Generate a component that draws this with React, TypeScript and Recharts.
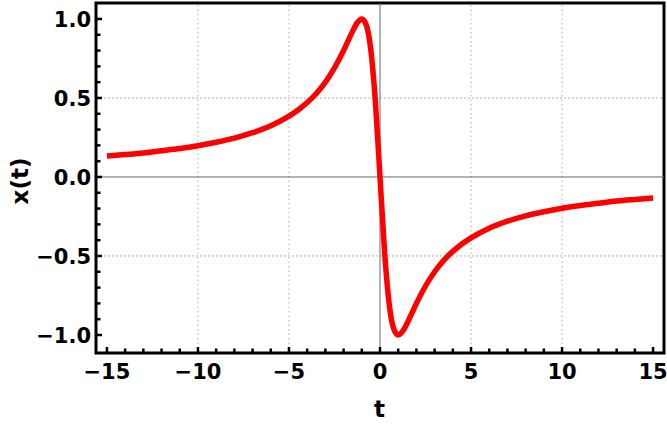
import { LineChart, Line, XAxis, YAxis, ReferenceLine, ReferenceArea } from "recharts";

// t values and x(t)
const tValues = [
  -15, -14, -13, -12, -11, -10, -9, -8, -7, -6, -5, -4.5, -4, -3.5, -3, -2.5, -2, -1.75, -1.5, -1.25, -1,
  -0.75, -0.5, -0.25, 0, 0.25, 0.5, 0.75, 1, 1.25, 1.5, 1.75, 2, 2.5, 3, 3.5, 4, 4.5, 5, 6, 7, 8, 9, 10,
  11, 12, 13, 14, 15,
];
const xValues = [
  0.133, 0.142, 0.152, 0.166, 0.18, 0.198, 0.22, 0.246, 0.28, 0.324, 0.385, 0.424, 0.471, 0.528, 0.6, 0.69,
  0.8, 0.862, 0.923, 0.976, 1.0, 0.96, 0.8, 0.471, 0, -0.471, -0.8, -0.96, -1.0, -0.976, -0.923, -0.862,
  -0.8, -0.69, -0.6, -0.528, -0.471, -0.424, -0.385, -0.324, -0.28, -0.246, -0.22, -0.198, -0.18, -0.166,
  -0.152, -0.142, -0.133,
];

const xMajor = [-15, -10, -5, 0, 5, 10, 15];
const xTicks = [
  -15, -14, -13, -12, -11, -10, -9, -8, -7, -6, -5, -4, -3, -2, -1, 0, 1, 2, 3, 4, 5, 6, 7, 8, 9, 10, 11, 12,
  13, 14, 15,
];
const yMajor = [-1, -0.5, 0, 0.5, 1];
const yLabels = ["\u22121.0", "\u22120.5", "0.0", "0.5", "1.0"];
const yTicks = [
  -1, -0.9, -0.8, -0.7, -0.6, -0.5, -0.4, -0.3, -0.2, -0.1, 0, 0.1, 0.2, 0.3, 0.4, 0.5, 0.6, 0.7, 0.8, 0.9, 1,
];
const xGrid = [-10, -5, 5, 10];
const yGrid = [-0.5, 0.5];

const X_DOMAIN: [number, number] = [-15.6, 15.6];
const Y_DOMAIN: [number, number] = [-1.114, 1.101];

const W = 667;
const H = 425;
const M = { top: 3, right: 3, left: 16, bottom: 22 };
const Y_AXIS_W = 80;
const X_AXIS_H = 50;
const LEFT = M.left + Y_AXIS_W;
const RIGHT = W - M.right;
const TOP = M.top;
const BOTTOM = H - M.bottom - X_AXIS_H;

const FONT = "'DejaVu Sans', sans-serif";
const FS = 21;
const LABEL_FS = 23;

const data = tValues.map((t, i) => ({ t, x: xValues[i] }));

const isMajor = (list: number[], v: number) => list.some((m) => Math.abs(m - v) < 1e-6);
const fmtX = (v: number) => (v < 0 ? "\u2212" + Math.abs(v) : String(v));

function BottomTick(props: any) {
  const { x, payload } = props;
  const major = isMajor(xMajor, payload.value);
  return (
    <g>
      <line x1={x} x2={x} y1={BOTTOM} y2={BOTTOM - (major ? 6 : 4.5)} stroke="#000" strokeWidth={2.5} />
      {major && (
        <text x={x} y={379} textAnchor="middle" fontFamily={FONT} fontWeight="bold" fontSize={FS} fill="#000">
          {fmtX(payload.value)}
        </text>
      )}
    </g>
  );
}

function TopTick(props: any) {
  const { x, payload } = props;
  const major = isMajor(xMajor, payload.value);
  return <line x1={x} x2={x} y1={TOP} y2={TOP + (major ? 6 : 4.5)} stroke="#000" strokeWidth={2.5} />;
}

function LeftTick(props: any) {
  const { y, payload } = props;
  const idx = yMajor.findIndex((m) => Math.abs(m - payload.value) < 1e-6);
  return (
    <g>
      <line x1={LEFT} x2={LEFT + (idx >= 0 ? 6 : 4.5)} y1={y} y2={y} stroke="#000" strokeWidth={2.5} />
      {idx >= 0 && (
        <text x={91} y={y + 7.6} textAnchor="end" fontFamily={FONT} fontWeight="bold" fontSize={FS} fill="#000">
          {yLabels[idx]}
        </text>
      )}
    </g>
  );
}

function RightTick(props: any) {
  const { y, payload } = props;
  const major = isMajor(yMajor, payload.value);
  return <line x1={RIGHT} x2={RIGHT - (major ? 6 : 4.5)} y1={y} y2={y} stroke="#000" strokeWidth={2.5} />;
}

export default function App() {
  const midY = 181;
  return (
    <div style={{ position: "absolute", left: 0, top: 0, width: W, height: H, background: "#fff" }}>
      <LineChart width={W} height={H} data={data} margin={M}>
        <XAxis
          xAxisId="b"
          dataKey="t"
          type="number"
          domain={X_DOMAIN}
          allowDataOverflow
          ticks={xTicks}
          interval={0}
          tick={BottomTick}
          tickLine={false}
          axisLine={false}
          height={X_AXIS_H}
          label={{
            content: () => (
              <text x={379.5} y={417} textAnchor="middle" fontFamily={FONT} fontWeight="bold" fontSize={LABEL_FS} fill="#000">
                t
              </text>
            ),
          }}
        />
        <XAxis
          xAxisId="top"
          orientation="top"
          dataKey="t"
          type="number"
          domain={X_DOMAIN}
          allowDataOverflow
          ticks={xTicks}
          interval={0}
          tick={TopTick}
          tickLine={false}
          axisLine={false}
          height={0}
        />
        <YAxis
          yAxisId="l"
          type="number"
          domain={Y_DOMAIN}
          allowDataOverflow
          ticks={yTicks}
          interval={0}
          tick={LeftTick}
          tickLine={false}
          axisLine={false}
          width={Y_AXIS_W}
          label={{
            content: () => (
              <text
                x={28}
                y={midY}
                textAnchor="middle"
                transform={`rotate(-90 28 ${midY})`}
                fontFamily={FONT}
                fontWeight="bold"
                fontSize={LABEL_FS}
                fill="#000"
              >
                x(t)
              </text>
            ),
          }}
        />
        <YAxis
          yAxisId="r"
          orientation="right"
          type="number"
          domain={Y_DOMAIN}
          allowDataOverflow
          ticks={yTicks}
          interval={0}
          tick={RightTick}
          tickLine={false}
          axisLine={false}
          width={0}
        />
        {xGrid.map((v) => (
          <ReferenceLine key={"gx" + v} x={v} xAxisId="b" yAxisId="l" stroke="#b0b0b0" strokeDasharray="1.5 3" strokeWidth={1} />
        ))}
        {yGrid.map((v) => (
          <ReferenceLine key={"gy" + v} y={v} xAxisId="b" yAxisId="l" stroke="#b0b0b0" strokeDasharray="2 2" strokeWidth={1} />
        ))}
        <ReferenceLine x={0} xAxisId="b" yAxisId="l" stroke="#666" strokeWidth={1} />
        <ReferenceLine y={0} xAxisId="b" yAxisId="l" stroke="#666" strokeWidth={1} />
        <Line
          xAxisId="b"
          yAxisId="l"
          type="monotone"
          dataKey="x"
          stroke="#ff0000"
          strokeWidth={5.5}
          dot={false}
          isAnimationActive={false}
        />
        <ReferenceArea
          xAxisId="b"
          yAxisId="l"
          x1={X_DOMAIN[0]}
          x2={X_DOMAIN[1]}
          y1={Y_DOMAIN[0]}
          y2={Y_DOMAIN[1]}
          fill="none"
          stroke="#000"
          strokeWidth={3}
        />
      </LineChart>
    </div>
  );
}
